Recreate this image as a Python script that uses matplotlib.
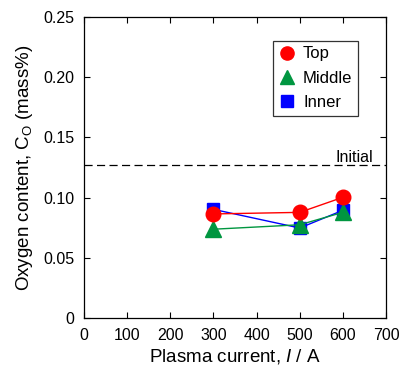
import matplotlib
matplotlib.use("Agg")
import matplotlib.pyplot as plt
from matplotlib.lines import Line2D

plt.rcParams['font.family'] = ['Liberation Sans', 'DejaVu Sans']
plt.rcParams['mathtext.fontset'] = 'custom'
plt.rcParams['mathtext.rm'] = 'Liberation Sans'
plt.rcParams['mathtext.it'] = 'Liberation Sans:italic'

current = [300, 500, 600]
top = [0.0865, 0.0878, 0.1003]
middle = [0.0738, 0.0775, 0.0878]
inner = [0.0903, 0.0748, 0.0895]
initial = 0.127

fig = plt.figure(figsize=(4.0, 3.72), dpi=100)
ax = fig.add_axes([0.21, 0.145, 0.755, 0.809])

ax.axhline(initial, color='black', lw=0.9, ls=(0, (6.5, 3.5)), zorder=1)
ax.text(626, initial + 0.003, 'Initial', ha='center', va='baseline', fontsize=11.5)

ax.plot(current, inner, color='blue', lw=1, marker='s', ms=9,
        mec='blue', mfc='blue', zorder=2)
ax.plot(current, middle, color='#009640', lw=1, marker='^', ms=11,
        mec='#009640', mfc='#009640', zorder=3)
ax.plot(current, top, color='red', lw=1, marker='o', ms=10.5,
        mec='red', mfc='red', zorder=4)

handles = [
    Line2D([], [], ls='none', marker='o', color='red', ms=9.5),
    Line2D([], [], ls='none', marker='^', color='#009640', ms=10),
    Line2D([], [], ls='none', marker='s', color='blue', ms=8),
]
leg = ax.legend(handles, ['Top', 'Middle', 'Inner'], loc='upper left',
                bbox_to_anchor=(0.626, 0.922), fontsize=12, frameon=True,
                fancybox=False, edgecolor='black', handlelength=1.0,
                handletextpad=0.45, borderpad=0.35, labelspacing=0.55,
                borderaxespad=0)
leg.get_frame().set_linewidth(0.9)

ax.set_xlim(0, 700)
ax.set_ylim(0, 0.25)
ax.set_xticks(range(0, 701, 100))
ax.set_yticks([0, 0.05, 0.10, 0.15, 0.20, 0.25])
ax.set_yticklabels(['0', '0.05', '0.10', '0.15', '0.20', '0.25'])
ax.tick_params(direction='in', top=True, right=True, length=4, width=0.8,
               labelsize=11.5, pad=7)
for s in ax.spines.values():
    s.set_linewidth(0.9)

ax.set_xlabel('Plasma current, $\\mathit{I}$ / A', fontsize=13.5, labelpad=3)
ax.set_ylabel('Oxygen content, C$_{\\mathrm{O}}$ (mass%)', fontsize=13.5, labelpad=6)

fig.savefig('out.png', dpi=100)
